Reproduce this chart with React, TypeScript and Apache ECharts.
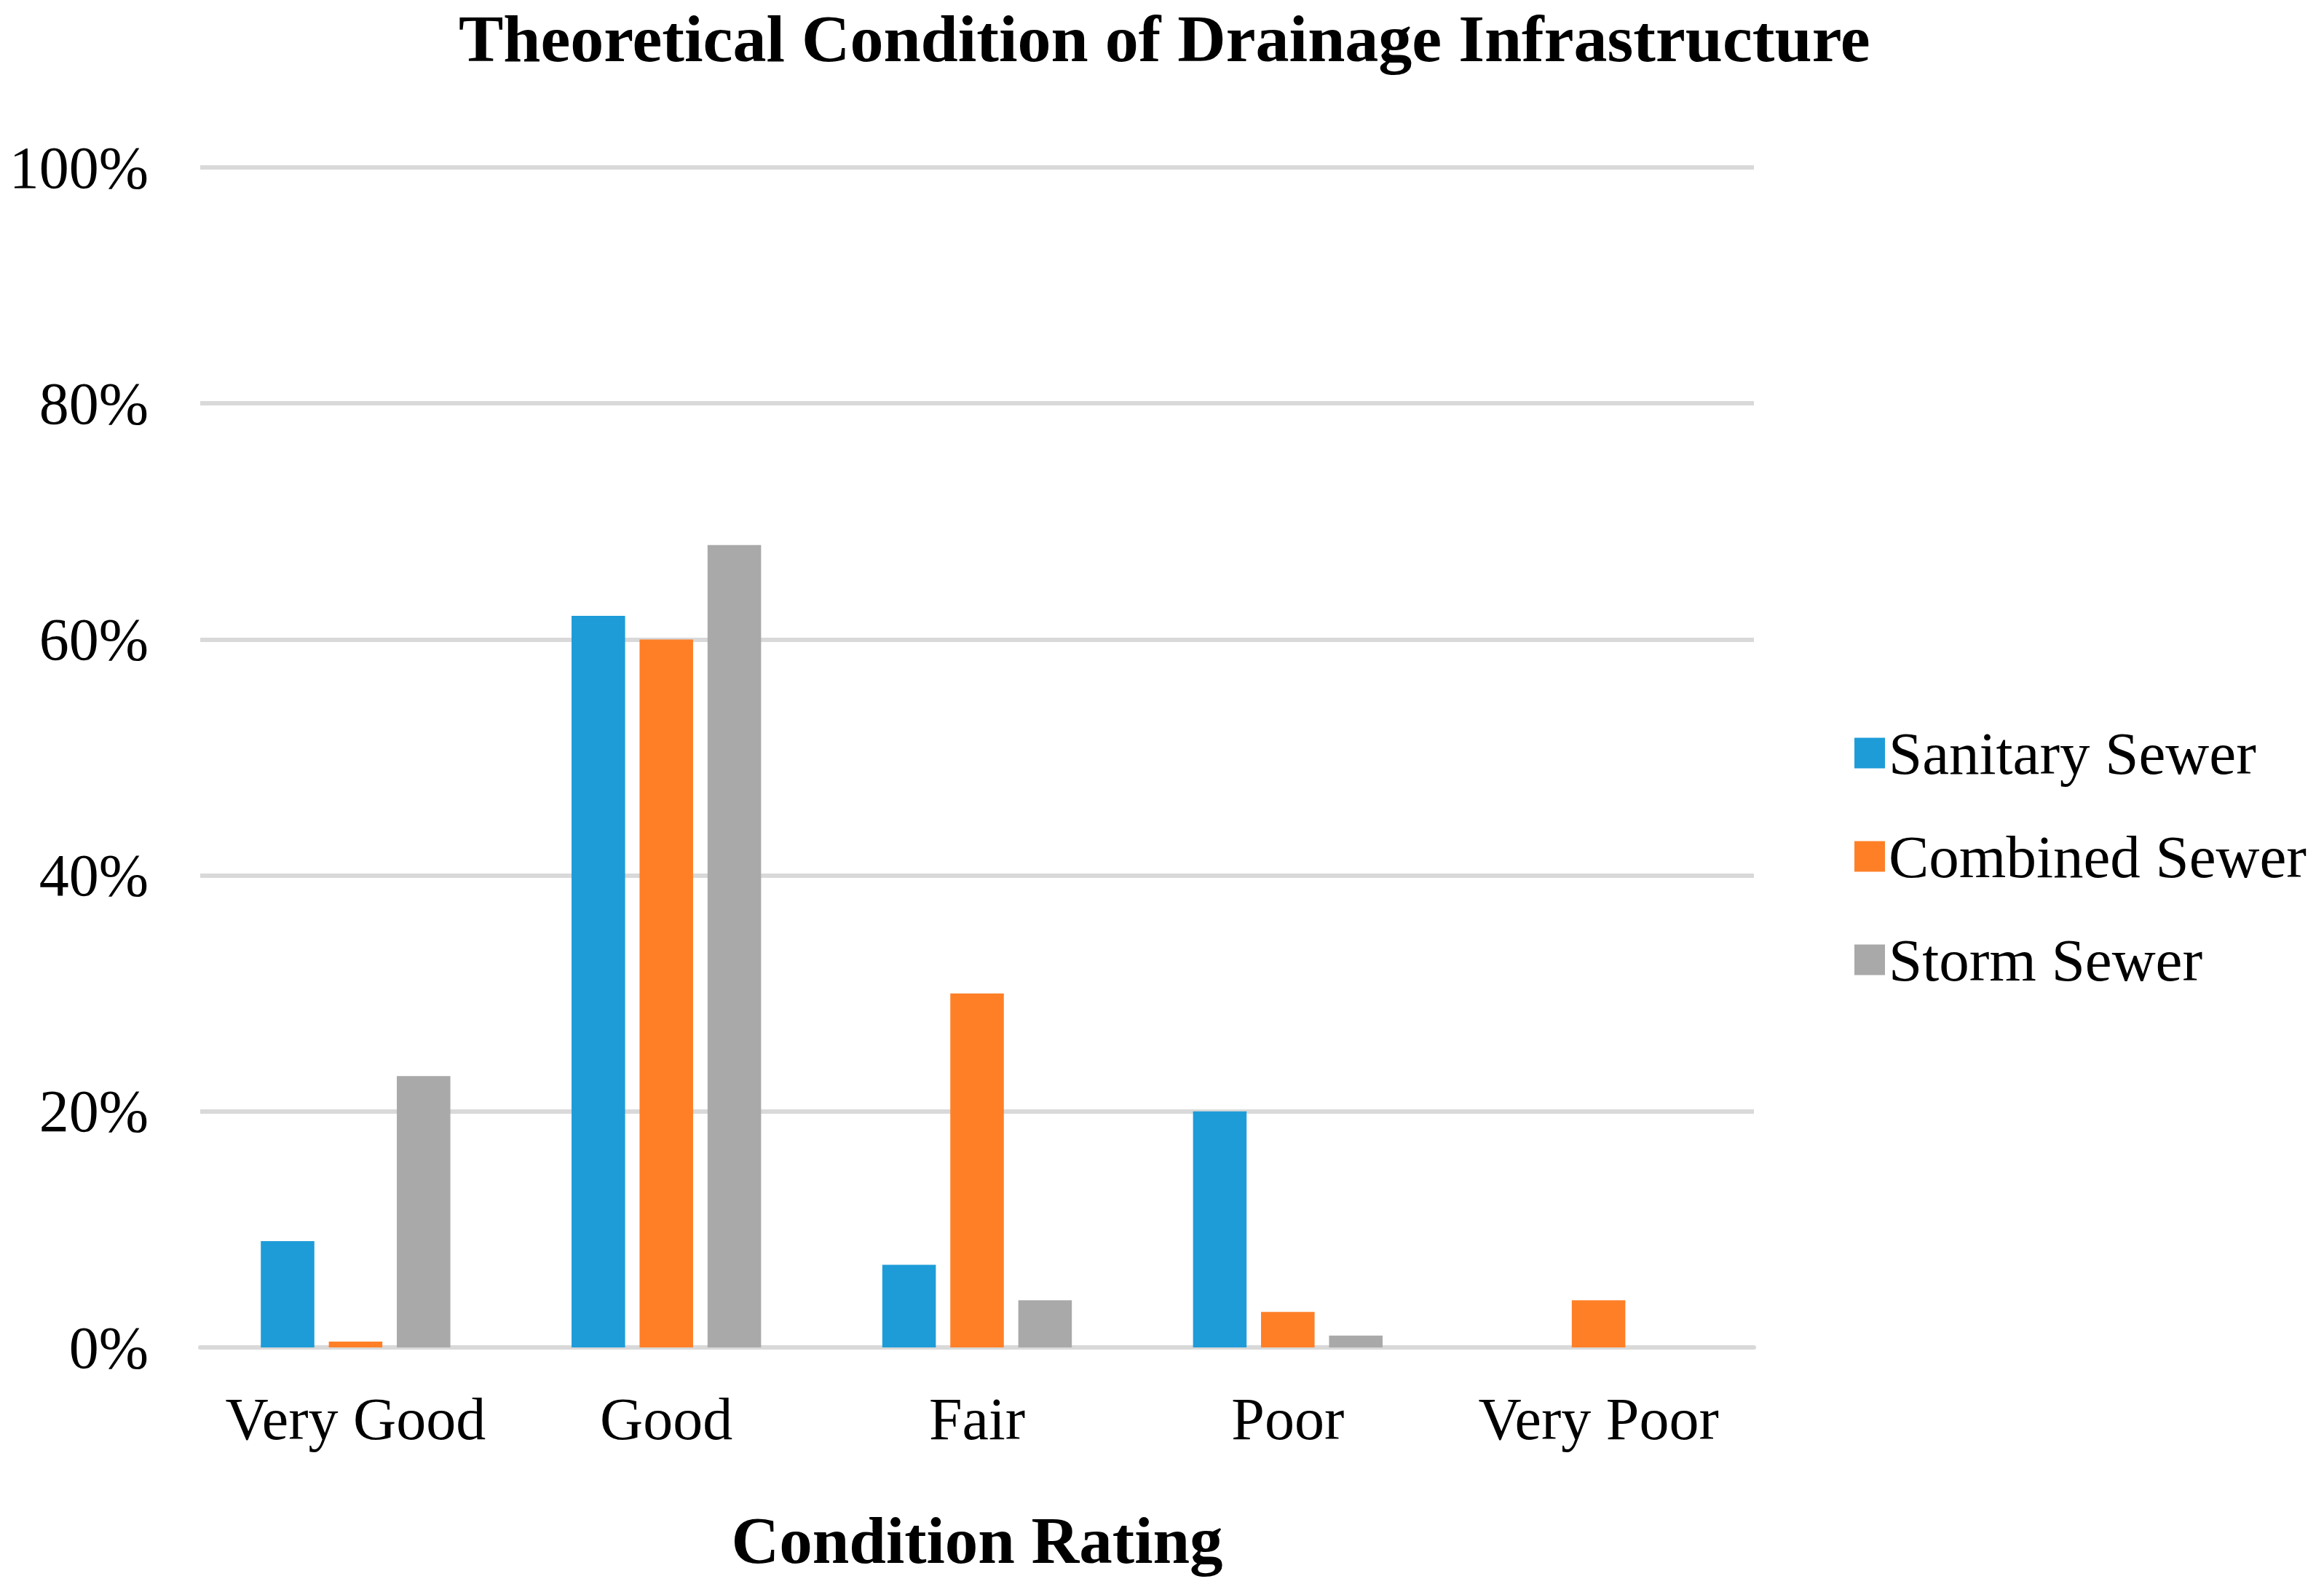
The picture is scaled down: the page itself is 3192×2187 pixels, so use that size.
import React, { useEffect, useRef } from "react";
import * as echarts from "echarts";

const categories = ["Very Good", "Good", "Fair", "Poor", "Very Poor"];
const sanitary = [9, 62, 7, 20, 0];
const combined = [0.5, 60, 30, 3, 4];
const storm = [23, 68, 4, 1, 0];
const seriesNames = ["Sanitary Sewer", "Combined Sewer", "Storm Sewer"];
const colors = ["#1E9CD8", "#FF7F27", "#A9A9A9"];

const FONT = "'Liberation Serif', 'Times New Roman', serif";

export default function App() {
  const ref = useRef<HTMLDivElement>(null);
  useEffect(() => {
    document.body.style.margin = "0";
    const chart = echarts.init(ref.current!, null, { renderer: "svg" });
    const data = [sanitary, combined, storm];
    chart.setOption({
      animation: false,
      backgroundColor: "#ffffff",
      title: {
        text: "Theoretical Condition of Drainage Infrastructure",
        left: 630,
        top: 7,
        padding: 0,
        textStyle: { fontFamily: FONT, fontSize: 92, fontWeight: "bold", color: "#000" },
      },
      legend: {
        orient: "vertical",
        left: 2542,
        top: 988,
        itemWidth: 42,
        itemHeight: 42,
        itemGap: 59,
        itemTextGap: 28,
        icon: "rect",
        data: seriesNames,
        textStyle: { fontFamily: FONT, fontSize: 83, color: "#000" },
      },
      grid: { left: 275, right: 783, top: 230, bottom: 336, containLabel: false },
      xAxis: {
        type: "category",
        data: categories,
        axisLine: { show: true, lineStyle: { color: "#d9d9d9", width: 6 } },
        axisTick: { show: false },
        axisLabel: { fontFamily: FONT, fontSize: 82, color: "#000", margin: 57, interval: 0 },
        name: "Condition Rating",
        nameLocation: "middle",
        nameGap: 220,
        nameTextStyle: { fontFamily: FONT, fontSize: 91, fontWeight: "bold", color: "#000" },
      },
      yAxis: {
        type: "value",
        min: 0,
        max: 100,
        interval: 20,
        axisLine: { show: false },
        axisTick: { show: false },
        axisLabel: { formatter: "{value}%", fontFamily: FONT, fontSize: 82, color: "#000", margin: 71 },
        splitLine: { lineStyle: { color: "#d9d9d9", width: 6 } },
      },
      series: seriesNames.map((name, i) => ({
        name,
        type: "bar",
        data: data[i],
        itemStyle: { color: colors[i] },
        barGap: "27%",
        barCategoryGap: "39%",
      })),
    });
    return () => chart.dispose();
  }, []);
  return (
    <div
      ref={ref}
      style={{ position: "absolute", left: 0, top: 0, width: 3192, height: 2187 }}
    />
  );
}
